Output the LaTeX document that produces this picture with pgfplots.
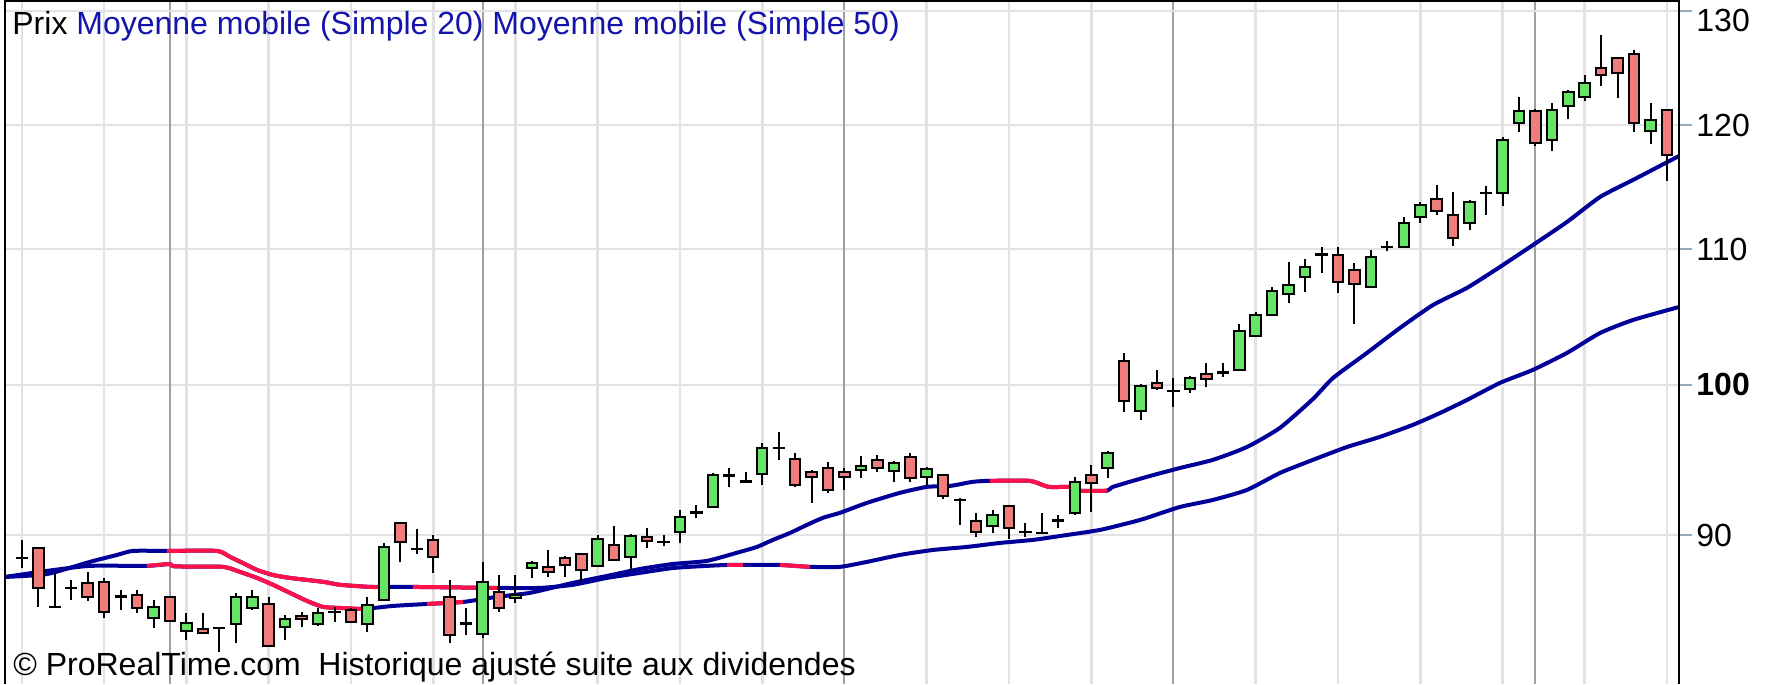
\documentclass[border=0pt]{standalone}
\usepackage{pgfplots}
\pgfplotsset{compat=1.18}
\usepackage{pgfplotstable}
\usepackage{fontspec}
\setmainfont{Liberation Sans}
\definecolor{gridL}{RGB}{226,226,226}
\definecolor{gridD}{RGB}{160,160,160}
\definecolor{cGreen}{RGB}{102,228,102}
\definecolor{cRed}{RGB}{240,124,124}
\definecolor{maBlue}{RGB}{0,0,153}
\definecolor{maRed}{RGB}{255,16,72}
\definecolor{legBlue}{RGB}{20,20,170}
\definecolor{tickC}{RGB}{150,170,190}

\pgfplotstableread{
k o h l c
0 88.57 89.70 87.95 88.57
1 89.19 89.19 85.58 86.73
2 85.58 87.65 85.58 85.58
3 86.73 87.22 86.00 86.73
4 87.04 87.71 85.94 86.19
5 87.10 87.34 84.93 85.28
6 86.19 86.61 85.40 86.19
7 86.31 86.61 85.22 85.52
8 84.93 86.00 84.33 85.58
9 86.19 86.19 84.69 84.75
10 84.15 85.22 83.63 84.63
11 84.27 85.22 84.03 84.03
12 84.33 84.33 82.92 84.33
13 84.57 86.43 83.45 86.19
14 85.52 86.61 85.40 86.19
15 85.76 86.19 83.28 83.28
16 84.39 85.10 83.63 84.87
17 85.04 85.28 84.39 84.87
18 84.57 85.52 84.45 85.22
19 85.28 85.58 84.69 85.28
20 85.40 85.52 84.63 84.69
21 84.57 86.19 84.09 85.70
22 86.00 89.51 86.00 89.26
23 90.78 90.78 88.33 89.57
24 89.13 90.39 88.82 89.13
25 89.70 90.01 87.65 88.64
26 86.19 87.22 83.45 83.91
27 84.57 85.52 83.91 84.57
28 83.97 88.33 83.75 87.10
29 86.49 87.52 85.28 85.52
30 86.12 87.52 85.82 86.31
31 87.95 88.39 87.34 88.26
32 88.02 89.07 87.40 87.71
33 88.57 88.70 87.40 88.14
34 88.82 88.82 87.10 87.83
35 88.08 90.01 88.08 89.76
36 89.38 90.59 88.45 88.45
37 88.64 90.08 87.83 89.95
38 89.89 90.46 89.19 89.64
39 89.57 90.01 89.32 89.57
40 90.20 91.61 89.51 91.16
41 91.42 91.93 91.10 91.42
42 91.80 94.01 91.74 93.88
43 93.82 94.34 93.10 93.82
44 93.43 94.08 93.43 93.43
45 93.95 96.02 93.23 95.67
46 95.67 96.75 94.88 95.67
47 94.95 95.34 93.10 93.23
48 94.08 94.21 92.06 93.76
49 94.34 94.75 92.71 92.90
50 94.08 94.34 92.90 93.76
51 94.21 95.14 93.69 94.48
52 94.88 95.21 94.08 94.34
53 94.15 94.81 93.43 94.68
54 95.08 95.34 93.43 93.69
55 93.76 94.41 93.23 94.28
56 93.88 93.95 92.32 92.51
57 92.25 92.38 90.65 92.25
58 90.91 91.42 89.89 90.20
59 90.59 91.61 90.14 91.29
60 91.87 91.87 89.76 90.46
61 90.20 90.78 89.89 90.20
62 90.14 91.42 90.14 90.14
63 90.91 91.29 90.46 90.91
64 91.42 93.76 91.29 93.43
65 93.88 94.55 91.48 93.36
66 94.34 95.47 93.69 95.34
67 101.70 102.27 98.12 98.88
68 98.19 100.07 97.58 99.93
69 100.14 101.06 99.65 99.79
70 99.58 100.49 98.47 99.58
71 99.72 100.63 99.44 100.49
72 100.78 101.56 99.86 100.42
73 100.85 101.56 100.56 100.85
74 101.06 104.37 101.06 103.86
75 103.50 105.25 103.50 105.03
76 105.03 107.11 105.03 106.82
77 106.59 109.01 105.92 107.26
78 107.87 109.24 106.74 108.63
79 109.55 110.16 108.17 109.55
80 109.55 110.16 106.67 107.49
81 108.40 108.93 104.37 107.34
82 107.11 109.93 107.11 109.39
83 110.16 110.62 109.85 110.16
84 110.16 112.51 110.08 112.03
85 112.51 113.69 112.03 113.45
86 113.93 115.06 112.66 112.98
87 112.66 114.49 110.24 110.86
88 112.03 113.85 111.48 113.69
89 114.41 114.97 112.66 114.41
90 114.41 119.00 113.38 118.75
91 120.17 122.38 119.41 121.18
92 121.18 121.35 118.25 118.50
93 118.75 121.86 117.84 121.27
94 121.61 122.98 120.50 122.81
95 122.38 124.29 122.03 123.59
96 124.89 127.82 123.33 124.29
97 125.78 125.78 122.29 124.46
98 126.13 126.48 119.41 120.17
99 119.50 121.86 118.42 120.42
100 121.27 121.27 115.38 117.51
}\candles

\pgfplotstableread{
k v
-1.03 87.40
1.52 87.58
4.13 88.33
5.78 88.76
6.75 89.01
8.81 89.01
11.85 89.01
12.64 88.64
13.43 88.26
14.29 87.83
15.26 87.52
16.29 87.34
18.30 87.10
19.33 86.92
21.16 86.79
21.76 86.79
23.77 86.79
28.88 86.73
31.49 86.73
33.50 86.92
35.56 87.34
37.57 87.65
39.57 87.95
41.64 88.08
42.86 88.14
43.83 88.14
46.08 88.14
47.90 88.02
49.73 88.02
51.37 88.33
53.37 88.76
55.38 89.07
57.45 89.26
59.45 89.51
61.46 89.70
63.53 90.01
65.53 90.33
67.54 90.84
68.39 91.10
70.40 91.80
72.40 92.25
74.47 92.90
76.47 94.01
78.48 94.88
80.55 95.74
82.55 96.42
84.56 97.24
86.20 98.05
87.84 98.95
89.85 100.14
91.85 101.06
93.92 102.27
95.93 103.71
97.93 104.66
100.73 105.62
}\smaA

\pgfplotstableread{
k v
-1.03 87.40
1.52 87.77
4.13 88.08
7.60 88.08
9.00 88.20
9.30 88.05
12.22 88.02
13.25 87.71
14.29 87.34
15.26 86.92
16.29 86.43
17.33 85.94
18.30 85.58
19.33 85.52
20.73 85.46
22.55 85.64
24.62 85.76
26.81 85.88
28.88 86.19
30.88 86.43
33.50 87.04
35.56 87.46
37.57 87.89
39.57 88.20
41.64 88.39
43.65 88.95
44.68 89.26
45.65 89.70
46.69 90.14
47.72 90.65
48.69 91.10
49.73 91.42
51.37 92.06
53.37 92.71
55.02 93.10
56.41 93.16
57.81 93.43
58.84 93.49
61.28 93.49
62.40 93.10
64.00 93.10
64.20 92.85
65.96 92.85
66.32 93.10
68.39 93.76
70.40 94.34
72.40 94.88
74.47 95.74
76.47 97.03
78.48 99.02
79.70 100.49
81.76 102.27
83.77 104.08
85.78 105.77
87.84 107.04
89.85 108.63
91.85 110.31
93.92 112.11
95.93 114.09
97.93 115.46
100.73 117.42
}\smaB

\begin{document}
\begin{tikzpicture}
\begin{axis}[
  scale only axis, width=837pt, height=341.5pt,
  xmin=-1.03, xmax=100.73, ymin=81.08, ymax=130.91,
  ymode=log,
  axis line style={draw=none},
  xtick={0,5,10,15,20,25,30,35,40,45,55,60,65,75,80,85,90,95,100},
  xticklabel=\empty,
  xtick style={draw=none},
  extra x ticks={9,28,50,70,92},
  extra x tick labels={},
  extra x tick style={grid=major, major grid style={draw=gridD, line width=1pt}, xtick style={draw=none}},
  ytick={90,100,110,120},
  yticklabels={90,\textbf{100},110,120},
  extra y ticks={130},
  extra y tick labels={130},
  extra y tick style={grid=major, yticklabel style={yshift=-5pt}},
  ytick pos=right, yticklabel pos=right,
  tick align=outside, major tick length=6.5pt,
  ytick style={draw=tickC, line width=1.2pt},
  yticklabel style={font=\fontsize{16pt}{18pt}\selectfont, inner sep=2pt, anchor=west, text=black},
  xmajorgrids, ymajorgrids,
  major grid style={draw=gridL, line width=1.3pt},
  ma/.style={line width=2pt, forget plot, smooth, tension=0.35},
]
\coordinate (bl) at (rel axis cs:0,0);
\coordinate (tl) at (rel axis cs:0,1);
\coordinate (tr) at (rel axis cs:1,1);
\coordinate (br) at (rel axis cs:1,0);

\addplot[maBlue, ma] table[x=k,y=v] {\smaA};
\addplot[maBlue, ma] table[x=k,y=v] {\smaB};
\addplot[maRed, ma, restrict x to domain=8.80:21.77] table[x=k,y=v] {\smaA};
\addplot[maRed, ma, restrict x to domain=23.76:28.89] table[x=k,y=v] {\smaA};
\addplot[maRed, ma, restrict x to domain=42.85:43.84] table[x=k,y=v] {\smaA};
\addplot[maRed, ma, restrict x to domain=46.07:47.91] table[x=k,y=v] {\smaA};
\addplot[maRed, ma, restrict x to domain=7.59:20.74] table[x=k,y=v] {\smaB};
\addplot[maRed, ma, restrict x to domain=24.61:26.82] table[x=k,y=v] {\smaB};
\addplot[maRed, ma, restrict x to domain=58.83:65.97] table[x=k,y=v] {\smaB};

\pgfplotsinvokeforeach{0,...,100}{%
  \pgfplotstablegetelem{#1}{o}\of\candles \edef\cO{\pgfplotsretval}%
  \pgfplotstablegetelem{#1}{h}\of\candles \edef\cH{\pgfplotsretval}%
  \pgfplotstablegetelem{#1}{l}\of\candles \edef\cL{\pgfplotsretval}%
  \pgfplotstablegetelem{#1}{c}\of\candles \edef\cC{\pgfplotsretval}%
  \pgfmathsetmacro\xa{#1-0.32}%
  \pgfmathsetmacro\xb{#1+0.32}%
  \pgfmathsetmacro\xc{#1-0.37}%
  \pgfmathsetmacro\xd{#1+0.37}%
  \edef\doit{\noexpand\addplot[black, line width=1pt, forget plot] coordinates {(#1,\cL) (#1,\cH)};}\doit
  \ifdim\cC pt>\cO pt \def\ccol{cGreen}\def\isdoji{0}\else
    \ifdim\cC pt<\cO pt \def\ccol{cRed}\def\isdoji{0}\else \def\isdoji{1}\fi\fi
  \ifnum\isdoji=0
    \edef\doit{\noexpand\addplot[draw=black, fill=\ccol, line width=1pt, forget plot] coordinates {(\xa,\cO) (\xb,\cO) (\xb,\cC) (\xa,\cC)} -- cycle;}%
  \else
    \edef\doit{\noexpand\addplot[black, line width=1.4pt, forget plot] coordinates {(\xc,\cO) (\xd,\cO)};}%
  \fi
  \doit
}
\end{axis}
\draw[black, line width=1.2pt] (bl) -- (tl) -- (tr) -- (br);
\node[anchor=base west, inner sep=0pt, font=\fontsize{16pt}{18pt}\selectfont] at ([xshift=3.5pt,yshift=-17pt]tl)
  {Prix \textcolor{legBlue}{Moyenne mobile (Simple 20) Moyenne mobile (Simple 50)}};
\node[anchor=base west, inner sep=0pt, font=\fontsize{16pt}{18pt}\selectfont] at ([xshift=4pt,yshift=4.5pt]bl)
  {© ProRealTime.com\ \ Historique ajusté suite aux dividendes};
\pgfresetboundingbox
\path[use as bounding box] ([xshift=-2.5pt]bl) rectangle ([xshift=48.5pt,yshift=0.5pt]tr);
\end{tikzpicture}
\end{document}
